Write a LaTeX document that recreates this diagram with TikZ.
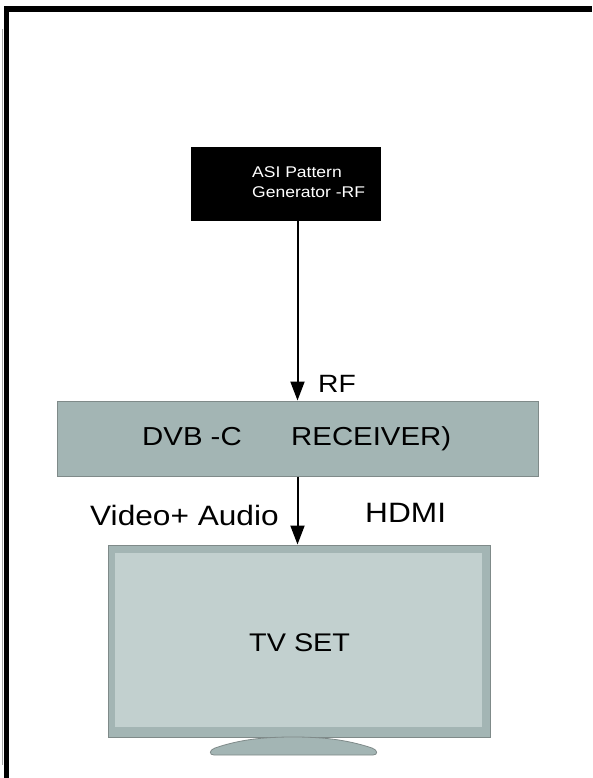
\documentclass[tikz,border=0pt]{standalone}
\usepackage{fontspec}
\setmainfont{Liberation Sans}
\usetikzlibrary{arrows.meta}
\definecolor{boxgray}{HTML}{A3B5B4}
\definecolor{tvouter}{HTML}{A3B5B4}
\definecolor{tvinner}{HTML}{C2D0CF}
\definecolor{edgegray}{HTML}{7F8A89}
\newcommand{\wtxt}[2]{\scalebox{1.13}[1]{\fontsize{#1}{#1}\selectfont #2}}
\tikzset{
  x=1pt, y=-1pt,
  lbl/.style={inner sep=0pt, anchor=base west, text=black},
  conn/.style={line width=2pt, -{Triangle[length=19pt,width=14pt]}},
  grybox/.style={draw=edgegray, line width=1pt, fill=boxgray, inner sep=0pt},
}
\begin{document}
\begin{tikzpicture}
\useasboundingbox (0,0) rectangle (592,778);
\fill[white] (0,0) rectangle (592,778);
% frame (cropped)
\fill[black] (4,6) rectangle (592,12);
\fill[black] (4,6) rectangle (9,778);
\draw[gray!70, line width=1pt] (2,29) -- (2,765);

% generator
\node[fill=black, draw=black, minimum width=189pt, minimum height=73pt, inner sep=0pt] (gen) at (285.5,183.5) {};
\node[lbl, text=white] (genA) at (252,177) {\wtxt{15.5}{ASI Pattern}};
\node[lbl, text=white] (genB) at (252,197) {\wtxt{15.5}{Generator -RF}};

% receiver
\node[grybox, minimum width=481pt, minimum height=75pt] (dvb) at (297.5,438.5) {};
\node[lbl] (dvbA) at (142,445) {\wtxt{26}{DVB -C}};
\node[lbl] (dvbB) at (291,445) {\wtxt{26}{RECEIVER)}};

% TV
\node[grybox, fill=tvouter, minimum width=382pt, minimum height=192pt] (tv) at (299,641) {};
\fill[tvinner] (115,553) rectangle (482,727);
\node[lbl] (tvtxt) at (249,651) {\wtxt{25.5}{TV SET}};
% stand
\draw[edgegray, fill=tvouter, line width=0.8pt]
  (214,755) -- (373,755) .. controls (378,755) and (378,750) .. (372,748)
  .. controls (345,739) and (320,737) .. (293,737)
  .. controls (266,737) and (241,739) .. (215,748)
  .. controls (209,750) and (209,755) .. (214,755) -- cycle;

% connectors
\draw[conn] (gen.south -| dvb.north) -- (dvb.north);
\draw[conn] (dvb.south) -- (dvb.south |- tv.north);

% labels
\node[lbl] (rf) at (318,392) {\wtxt{25}{RF}};
\node[lbl] (va) at (90,525) {\wtxt{28}{Video+ Audio}};
\node[lbl] (hdmi) at (365,522) {\wtxt{28}{HDMI}};
\end{tikzpicture}
\end{document}
